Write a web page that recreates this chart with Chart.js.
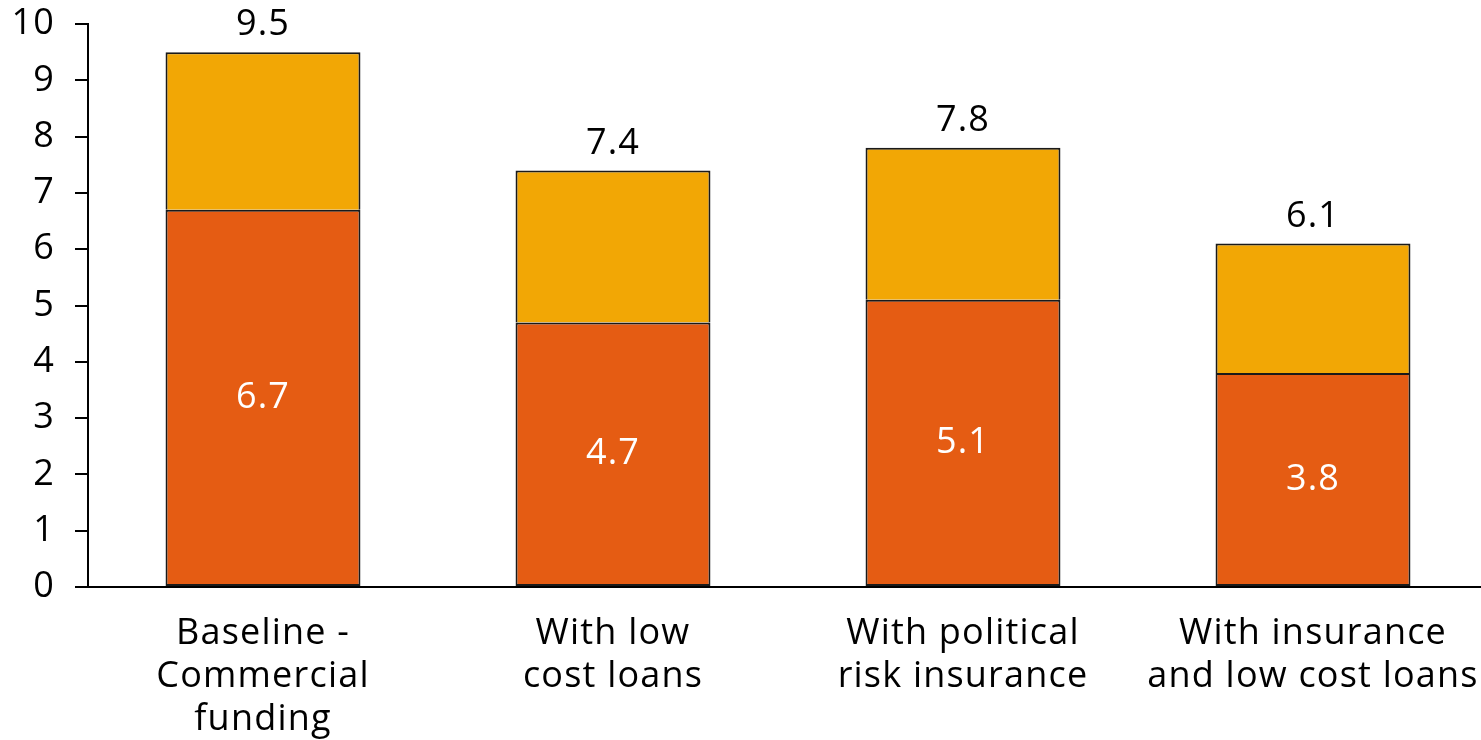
<!DOCTYPE html>
<html>
<head>
<meta charset="utf-8">
<script src="https://cdn.jsdelivr.net/npm/chart.js@4.4.1/dist/chart.umd.min.js"></script>
<style>
  html, body { margin: 0; padding: 0; background: #fff; overflow: hidden; }
  #wrap { position: relative; width: 1488px; height: 740px; }
</style>
</head>
<body>
<div id="wrap"><canvas id="costChart"></canvas></div>
<script>
const categories = [
  ['Baseline -', 'Commercial', 'funding'],
  ['With low', 'cost loans'],
  ['With political', 'risk insurance'],
  ['With insurance', 'and low cost loans']
];
const baseValues = [6.7, 4.7, 5.1, 3.8];
const upperValues = [2.8, 2.7, 2.7, 2.3];
const totals = [9.5, 7.4, 7.8, 6.1];
const yTicks = [0, 1, 2, 3, 4, 5, 6, 7, 8, 9, 10];

const FONT = "'Open Sans', 'DejaVu Sans', sans-serif";

// slightly looser letter spacing for every text on the canvas
const spacing = {
  id: 'spacing',
  beforeLayout(chart) { chart.ctx.letterSpacing = '1.2px'; },
  beforeDraw(chart) { chart.ctx.letterSpacing = '1.2px'; }
};

// value labels: white inside lower segment, black total above the stack
const valueLabels = {
  id: 'valueLabels',
  afterDatasetsDraw(chart) {
    const ctx = chart.ctx;
    const lower = chart.getDatasetMeta(0).data;
    const upper = chart.getDatasetMeta(1).data;
    ctx.save();
    ctx.font = '36px ' + FONT;
    ctx.textAlign = 'center';
    ctx.textBaseline = 'middle';
    lower.forEach((bar, i) => {
      ctx.fillStyle = '#ffffff';
      ctx.fillText(baseValues[i].toFixed(1), bar.x, (bar.y + bar.base) / 2);
    });
    upper.forEach((bar, i) => {
      ctx.fillStyle = '#000000';
      ctx.fillText(totals[i].toFixed(1), bar.x, bar.y - 27);
    });
    ctx.restore();
  }
};

// no extra room for end labels, the plot keeps its fixed frame
function noEdgePadding(scale) {
  scale.paddingTop = 0;
  scale.paddingBottom = 0;
  scale.paddingLeft = 0;
  scale.paddingRight = 0;
}

new Chart(document.getElementById('costChart'), {
  type: 'bar',
  data: {
    labels: categories,
    datasets: [
      {
        data: baseValues,
        backgroundColor: '#E55C13',
        borderColor: '#1a1a1a',
        borderWidth: 2,
        borderSkipped: false,
        categoryPercentage: 1,
        barPercentage: 0.557
      },
      {
        data: upperValues,
        backgroundColor: '#F2A705',
        borderColor: '#1a1a1a',
        borderWidth: 2,
        borderSkipped: 'start',
        categoryPercentage: 1,
        barPercentage: 0.557
      }
    ]
  },
  options: {
    responsive: true,
    maintainAspectRatio: false,
    animation: false,
    layout: { padding: { top: 24, right: 0, left: 0, bottom: 0 } },
    plugins: {
      legend: { display: false },
      tooltip: { enabled: false }
    },
    scales: {
      x: {
        stacked: true,
        grid: { display: false },
        border: { display: true, color: '#000', width: 2 },
        ticks: {
          color: '#000',
          padding: 17,
          maxRotation: 0,
          autoSkip: false,
          font: { family: FONT, size: 36, lineHeight: 1.2 }
        },
        afterFit(scale) {
          noEdgePadding(scale);
          scale.height = 153;
        }
      },
      y: {
        stacked: true,
        min: 0,
        max: 10,
        afterBuildTicks(scale) { scale.ticks = yTicks.map(v => ({ value: v })); },
        grid: { drawOnChartArea: false, tickLength: 13, color: '#000', lineWidth: 2 },
        border: { display: true, color: '#000', width: 2 },
        ticks: {
          color: '#000',
          padding: 20,
          font: { family: FONT, size: 36 }
        },
        afterFit(scale) {
          noEdgePadding(scale);
          scale.width = 88;
        }
      }
    }
  },
  plugins: [spacing, valueLabels]
});
</script>
</body>
</html>
